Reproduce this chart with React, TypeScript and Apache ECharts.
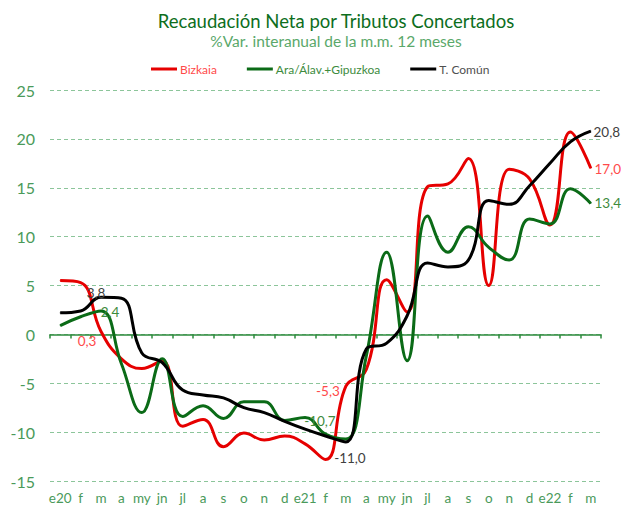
import React, { useEffect, useRef } from "react";
import * as echarts from "echarts";

const months = ["e20","f","m","a","my","jn","jl","a","s","o","n","d","e21","f","m","a","my","jn","jl","a","s","o","n","d","e22","f","m"];
const bizkaia = [5.5,5.3,0.3,-2.5,-3.5,-2.7,-9.4,-8.7,-11.5,-10.1,-10.8,-10.4,-11.2,-12.8,-5.3,-3.6,5.6,2.3,15.1,15.4,18.0,5.0,16.9,15.9,11.2,20.7,17.0];
const araGip = [0.9,1.8,2.4,-3.0,-8.0,-2.5,-8.4,-7.3,-8.6,-6.9,-6.9,-8.8,-8.5,-10.2,-10.7,-2.2,8.4,-2.7,12.1,8.4,11.0,8.9,7.6,11.8,11.3,14.9,13.4];
const tComun = [2.2,2.4,3.8,3.7,-1.9,-2.9,-5.7,-6.2,-6.5,-7.5,-8.0,-8.9,-9.7,-10.4,-11.0,-1.5,-0.9,1.9,7.3,6.9,7.6,13.7,13.3,15.2,17.5,19.7,20.8];
const seriesNames = ["Bizkaia", "Ara/Álav.+Gipuzkoa", "T. Común"];
const yTicks = { min: -15, max: 25, interval: 5 };

// label placement (index -> offset) for each series
const labelOffsets: Record<number, number[]>[] = [
  { 2: [-14, 10], 14: [-18, 5], 26: [17, 1] },
  { 2: [9, 1], 14: [-26, -18], 26: [17, 0] },
  { 2: [-5, -4], 14: [4, 16], 26: [16, 1] },
];
const lineColors = ["#e60000", "#0b6b17", "#000000"];
const labelColors = ["#ff4a4a", "#3d8b3d", "#404040"];

const fmt = (v: number) => v.toFixed(1).replace(".", ",");

export default function App() {
  const ref = useRef<HTMLDivElement>(null);
  useEffect(() => {
    document.body.style.margin = "0";
    const chart = echarts.init(ref.current!, null, { renderer: "svg" });
    const raw = [bizkaia, araGip, tComun];
    const series = raw.map((arr, si) => ({
      name: seriesNames[si],
      type: "line",
      xAxisIndex: 0,
      yAxisIndex: 0,
      smooth: 0.45,
      symbol: "circle",
      symbolSize: 1,
      showSymbol: true,
      itemStyle: { color: lineColors[si] },
      lineStyle: { color: lineColors[si], width: 3 },
      z: 2 + si,
      data: arr.map((v, i) => {
        const off = labelOffsets[si][i];
        if (!off) return v;
        return {
          value: v,
          label: {
            show: true,
            position: "inside",
            offset: off,
            formatter: () => fmt(v),
            color: labelColors[si],
            fontSize: 13.5,
            fontFamily: "Lato",
          },
        };
      }),
    }));
    chart.setOption({
      animation: false,
      backgroundColor: "#ffffff",
      textStyle: { fontFamily: "Lato" },
      title: [
        {
          text: "Recaudación Neta por Tributos Concertados",
          left: 336,
          top: 11,
          padding: 0,
          textAlign: "center",
          textStyle: { color: "#0d6e1d", fontSize: 18.5, fontWeight: "normal", fontFamily: "Lato" },
        },
        {
          text: "%Var. interanual de la m.m. 12 meses",
          left: 336,
          top: 33,
          padding: 0,
          textAlign: "center",
          textStyle: { color: "#5aa86a", fontSize: 15.5, fontWeight: "normal", fontFamily: "Lato" },
        },
      ],
      legend: {
        top: 63,
        left: 151,
        padding: 0,
        icon: "rect",
        itemWidth: 26,
        itemHeight: 3,
        itemGap: 30,
        textStyle: { fontSize: 12, fontFamily: "Lato", padding: [0, 0, 0, -2] },
        data: [
          { name: seriesNames[0], textStyle: { color: "#ff4a4a" } },
          { name: seriesNames[1], textStyle: { color: "#3d8b3d" } },
          { name: seriesNames[2], textStyle: { color: "#505050" } },
        ],
      },
      grid: { left: 50, right: 22, top: 90, bottom: 25 },
      xAxis: [
        {
          type: "category",
          data: months,
          position: "bottom",
          boundaryGap: true,
          axisLine: { show: false, onZero: false },
          axisTick: { show: false },
          axisLabel: { color: "#4a9a5a", fontSize: 13.5, margin: 10, interval: 0, fontFamily: "Lato" },
          splitLine: { show: false },
        },
        {
          type: "category",
          data: months,
          position: "bottom",
          boundaryGap: true,
          axisLine: { show: true, onZero: true, lineStyle: { color: "#2e8b3e", width: 1.5 } },
          axisTick: { show: true, length: 4, interval: 0, lineStyle: { color: "#2e8b3e", width: 1.5 } },
          axisLabel: { show: false },
          splitLine: { show: false },
        },
      ],
      yAxis: {
        type: "value",
        min: yTicks.min,
        max: yTicks.max,
        interval: yTicks.interval,
        axisLine: { show: false },
        axisTick: { show: false },
        axisLabel: { color: "#4a9a5a", fontSize: 16, margin: 15, fontFamily: "Lato" },
        splitLine: { show: true, lineStyle: { color: "#8cc59a", type: [4, 3], width: 1 } },
      },
      series,
    });
    return () => chart.dispose();
  }, []);
  return <div ref={ref} style={{ width: 623, height: 506, position: "fixed", left: 0, top: 0 }} />;
}
